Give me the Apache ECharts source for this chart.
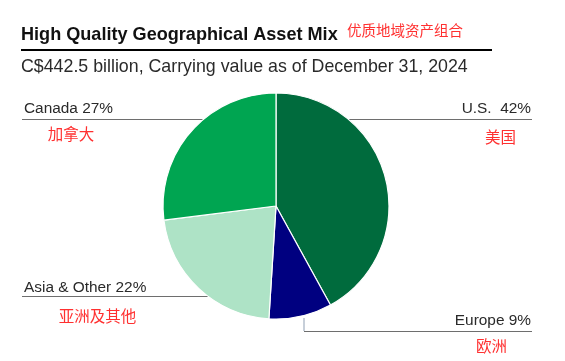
<!DOCTYPE html>
<html>
<head>
<meta charset="utf-8">
<script src="https://cdn.jsdelivr.net/npm/echarts@6/dist/echarts.min.js"></script>
<style>
html,body{margin:0;padding:0;background:#fff;}
#chart{width:565px;height:361px;}
</style>
</head>
<body>
<div id="chart"></div>
<script>
// ---- data ----
var regions = ['U.S.', 'Europe', 'Asia & Other', 'Canada'];
var regionsCN = ['美国', '欧洲', '亚洲及其他', '加拿大'];
var shares = [42, 9, 22, 27];
var titleText = 'High Quality Geographical Asset Mix';
var titleCN = '优质地域资产组合';
var subtitleText = 'C$442.5 billion, Carrying value as of December 31, 2024';

// ---- styling ----
var colors = ['#006B3D', '#000080', '#AEE3C6', '#00A551'];
var cx = 276, cy = 206, R = 113;
var LAT = '"Liberation Sans", Arial, Helvetica, sans-serif';
var CJK = '"Noto Sans CJK SC", sans-serif';
var red = '#FF3030';
var lineCol = '#6e6e6e';

function edgeX(y, side) {
  var dy = y - cy;
  var dx = Math.sqrt(Math.max(0, R * R - dy * dy));
  return side < 0 ? cx - dx : cx + dx;
}

function label(i) {
  return regions[i] + (i === 0 ? '  ' : ' ') + shares[i] + '%';
}

var place = [
  {x: 531, y: 109, align: 'right', cx: 500.5, cy: 137, ly: 119.5, lx1: edgeX(119.5, 1), lx2: 532},
  {x: 531, y: 320.5, align: 'right', cx: 491.5, cy: 346, ly: 331.5, lx1: 304, lx2: 532},
  {x: 24, y: 287.5, align: 'left', cx: 97.5, cy: 316, ly: 296.5, lx1: 22, lx2: edgeX(296.5, -1)},
  {x: 24, y: 108.5, align: 'left', cx: 71, cy: 134, ly: 119.5, lx1: 22, lx2: edgeX(119.5, -1)}
];

var graphics = [
  {type: 'text', x: 21, y: 35, style: {text: titleText, font: 'bold 18.1px ' + LAT, fill: '#111', textAlign: 'left', textVerticalAlign: 'middle'}},
  {type: 'text', x: 347, y: 30, style: {text: titleCN, font: '14.5px ' + CJK, fill: red, textAlign: 'left', textVerticalAlign: 'middle'}},
  {type: 'line', shape: {x1: 21, y1: 50, x2: 492, y2: 50}, style: {stroke: '#000', lineWidth: 2}},
  {type: 'text', x: 21, y: 67.5, style: {text: subtitleText, font: '17.8px ' + LAT, fill: '#2a2a2a', textAlign: 'left', textVerticalAlign: 'middle'}}
];

for (var i = 0; i < regions.length; i++) {
  var p = place[i];
  graphics.push({type: 'text', x: p.x, y: p.y, style: {text: label(i), font: '15.4px ' + LAT, fill: '#2a2a2a', textAlign: p.align, textVerticalAlign: 'middle'}});
  graphics.push({type: 'text', x: p.cx, y: p.cy, style: {text: regionsCN[i], font: '15.5px ' + CJK, fill: red, textAlign: 'center', textVerticalAlign: 'middle'}});
  graphics.push({type: 'line', shape: {x1: p.lx1, y1: p.ly, x2: p.lx2, y2: p.ly}, style: {stroke: lineCol, lineWidth: 1}});
}
graphics.push({type: 'line', shape: {x1: 304, y1: 318, x2: 304, y2: 331}, style: {stroke: '#b4bfcc', lineWidth: 1.5}});

var chart = echarts.init(document.getElementById('chart'), null, {renderer: 'canvas'});
chart.setOption({
  animation: false,
  backgroundColor: '#fff',
  color: colors,
  graphic: graphics,
  series: [{
    type: 'pie',
    center: [cx, cy],
    radius: [0, R],
    startAngle: 90,
    clockwise: true,
    label: {show: false},
    labelLine: {show: false},
    itemStyle: {borderColor: '#fff', borderWidth: 1.2},
    emphasis: {disabled: true},
    data: regions.map(function (r, i) { return {name: r, value: shares[i]}; })
  }]
});
</script>
</body>
</html>
